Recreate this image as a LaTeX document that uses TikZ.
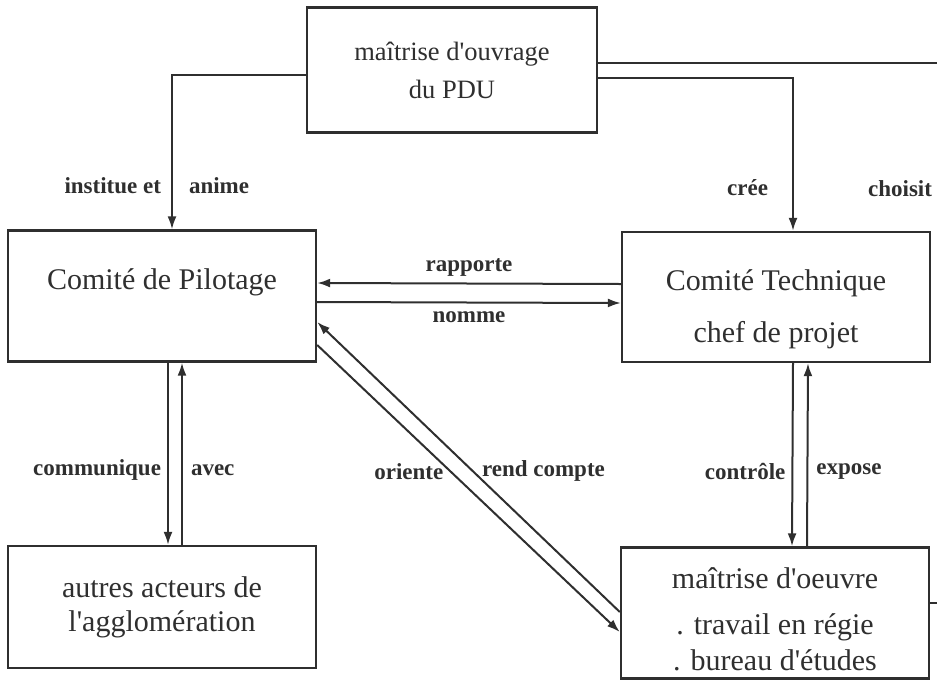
\documentclass[tikz,border=0pt]{standalone}
\usepackage{fontspec}
\setmainfont{Liberation Serif}
\usetikzlibrary{arrows.meta,positioning}
\definecolor{ink}{HTML}{2F2F2F}
\newcommand{\apos}{\textquotesingle}
\tikzstyle{boxNode} = [rectangle, minimum width=308pt, minimum height=130pt, draw=ink, line width=2.4pt, text=ink, align=center, font=\fontsize{30}{34}\selectfont]
\tikzstyle{eNode} = [inner sep=0pt, text=ink, font=\fontsize{30}{34}\selectfont]
\tikzstyle{lbl} = [inner sep=0pt, text=ink, font=\bfseries\fontsize{23}{26}\selectfont]
\tikzstyle{arrow} = [line width=2pt, draw=ink, -{Latex[length=13pt,width=9pt]}]
\tikzstyle{line} = [line width=2pt, draw=ink]

\begin{document}
\begin{tikzpicture}[x=1pt, y=-1pt]
        \useasboundingbox (0,0) rectangle (937,681);
        \clip (0,0) rectangle (937,681);

        % boxes
        \node (pdu) [boxNode, minimum width=290pt, minimum height=125pt, font=\fontsize{26.5}{38}\selectfont] at (452,70) {ma\^{\i}trise d\apos ouvrage\\du PDU};
        \node (cp) [boxNode, minimum height=131pt] at (162,296) {};
        \node (ct) [boxNode] at (776,297) {};
        \node (aa) [boxNode, minimum height=122pt] at (162,607) {autres acteurs de\\l\apos agglom\'eration};
        \node (moe) [boxNode, minimum height=131pt] at (775,613) {};

        \node (cpT) [eNode] at (162,282) {Comit\'e de Pilotage};
        \node (ctT1) [eNode] at (776,283) {Comit\'e Technique};
        \node (ctT2) [eNode] at (776,335) {chef de projet};
        \node (moeT1) [eNode] at (775,578) {ma\^{\i}trise d\apos oeuvre};
        \node (moeT2) [eNode] at (775,627) {. travail en r\'egie};
        \node (moeT3) [eNode] at (775,660) {. bureau d\apos\'etudes};

        \coordinate (far) at (960,603);

        % from the PDU
        \draw [arrow] ([yshift=-5pt]pdu.west) -| node[lbl, pos=0.86, left=10pt] {institue et} node[lbl, pos=0.86, right=16pt] {anime} ([xshift=10pt]cp.north);
        \draw [arrow] ([yshift=-8pt]pdu.east) -| node[lbl, pos=0.86, left=24pt] {cr\'ee} ([xshift=17pt]ct.north);
        \draw [line] ([yshift=7pt]pdu.east) -| node[lbl, pos=0.616, left=27pt] {choisit} (far) -- (moe.east |- far);

        % between the comites
        \draw [arrow] ([yshift=13pt]ct.west) -- node[lbl, above=6pt] {rapporte} ([yshift=13pt]cp.east);
        \draw [arrow] ([yshift=-6pt]cp.east) -- node[lbl, below=8pt] {nomme} ([yshift=-6pt]ct.west);

        % vertical pairs
        \draw [arrow] ([xshift=6pt]cp.south) -- node[lbl, pos=0.59, left=6pt] {communique} ([xshift=6pt]aa.north);
        \draw [arrow] ([xshift=20pt]aa.north) -- node[lbl, pos=0.41, right=8pt] {avec} ([xshift=20pt]cp.south);
        \draw [arrow] ([xshift=17pt]ct.south) -- node[lbl, pos=0.59, left=6pt] {contr\^ole} ([xshift=17pt]moe.north);
        \draw [arrow] ([xshift=32pt]moe.north) -- node[lbl, pos=0.41, right=8pt] {expose} ([xshift=32pt]ct.south);

        % diagonal pair
        \draw [arrow] ([yshift=1pt]moe.west) -- node[lbl, pos=0.485, right=8pt] {rend compte} ([yshift=-26pt]cp.east);
        \draw [arrow] ([yshift=-49pt]cp.east) -- node[lbl, pos=0.44, left=6pt] {oriente} ([yshift=-19pt]moe.west);
\end{tikzpicture}
\end{document}
